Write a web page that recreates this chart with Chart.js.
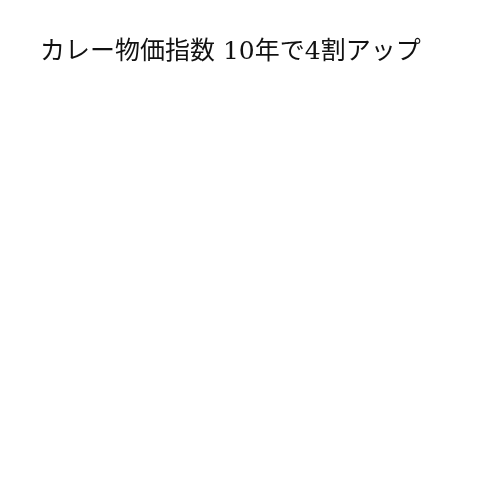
<!DOCTYPE html>
<html>
<head>
<meta charset="utf-8">
<script src="https://cdn.jsdelivr.net/npm/chart.js@4/dist/chart.umd.min.js"></script>
<style>
html,body{margin:0;padding:0;background:#fff;}
#wrap{width:500px;height:500px;}
</style>
</head>
<body>
<div id="wrap"><canvas id="c" width="500" height="500"></canvas></div>
<script>
const titleText = "カレー物価指数 10年で4割アップ";
const categories = [];
const seriesValues = [];

new Chart(document.getElementById('c'), {
  type: 'line',
  data: {
    labels: categories,
    datasets: [{ label: '', data: seriesValues, borderColor: '#000' }]
  },
  options: {
    responsive: false,
    animation: false,
    devicePixelRatio: 1,
    layout: { padding: { left: 40, right: 20, top: 0, bottom: 20 } },
    scales: { x: { display: false }, y: { display: false } },
    plugins: {
      legend: { display: false },
      tooltip: { enabled: false },
      title: {
        display: true,
        text: titleText,
        align: 'start',
        color: '#111',
        font: { family: "'DejaVu Serif', 'Noto Sans CJK JP', serif", size: 25, weight: 'normal' },
        padding: { top: 37, bottom: 10 }
      }
    }
  }
});
</script>
</body>
</html>
